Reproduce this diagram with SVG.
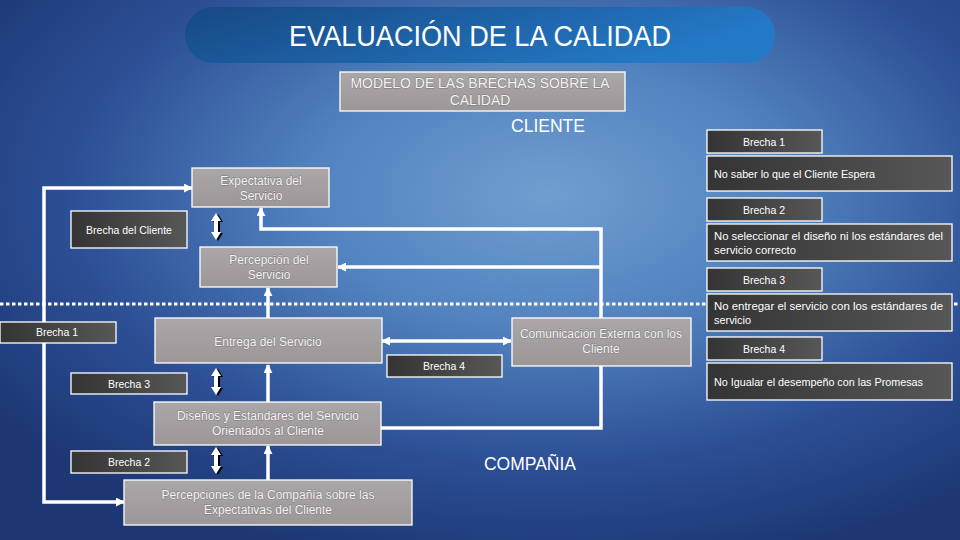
<svg xmlns="http://www.w3.org/2000/svg" width="960" height="540" viewBox="0 0 960 540">
<defs>
<radialGradient id="bg" cx="0.57" cy="0.36" r="0.7">
<stop offset="0" stop-color="#6f9ed0"/>
<stop offset="0.35" stop-color="#5283bf"/>
<stop offset="0.7" stop-color="#2d5096"/>
<stop offset="1" stop-color="#1d3774"/>
</radialGradient>
<linearGradient id="ban" x1="0" y1="0" x2="1" y2="0.3">
<stop offset="0" stop-color="#174883"/>
<stop offset="1" stop-color="#2479c6"/>
</linearGradient>
<linearGradient id="gray" x1="0" y1="0" x2="0" y2="1">
<stop offset="0" stop-color="#aba7a8"/>
<stop offset="1" stop-color="#9c9697"/>
</linearGradient>
<linearGradient id="dark" x1="0" y1="0" x2="1" y2="0">
<stop offset="0" stop-color="#343434"/>
<stop offset="1" stop-color="#575757"/>
</linearGradient>
<marker id="ah" viewBox="0 0 10 10" refX="9" refY="5" markerWidth="9" markerHeight="9" markerUnits="userSpaceOnUse" orient="auto-start-reverse">
<path d="M0,0 L10,5 L0,10 z" fill="#ffffff"/>
</marker>
<g id="darr">
<path d="M2,1 L7,9 L4,9 L4,20 L7,20 L2,28 L-3,20 L0,20 L0,9 L-3,9 z" fill="#000000"/>
<path d="M0,0 L5,8 L2,8 L2,19 L5,19 L0,27 L-5,19 L-2,19 L-2,8 L-5,8 z" fill="#ffffff"/>
</g>
<style>
.gbox{fill:url(#gray);stroke:#ffffff;stroke-width:1.3}
.dbox{fill:url(#dark);stroke:#ffffff;stroke-width:1.3}
.gt{font-family:"Liberation Sans",Arial,sans-serif;font-size:12px;fill:#f4f4f4;text-anchor:middle;paint-order:stroke;stroke:#7d7879;stroke-width:0.8px}
.dt{font-family:"Liberation Sans",Arial,sans-serif;font-size:10.5px;fill:#ffffff;text-anchor:middle}
.rt{font-family:"Liberation Sans",Arial,sans-serif;font-size:10.5px;fill:#ffffff}
.big{font-family:"Liberation Sans",Arial,sans-serif;font-size:17.5px;fill:#ffffff;text-anchor:middle}
.conn{fill:none;stroke:#ffffff;stroke-width:3.5}
</style>
</defs>
<rect x="0" y="0" width="960" height="540" fill="url(#bg)"/>
<line x1="0" y1="304" x2="960" y2="304" stroke="#ffffff" stroke-width="3" stroke-dasharray="3.5 2.5"/>

<g id="title">
<rect x="185" y="7" width="590" height="56" rx="28" fill="url(#ban)"/>
<text x="480" y="46" font-family="Liberation Sans,Arial,sans-serif" font-size="29" fill="#ffffff" text-anchor="middle" textLength="382" lengthAdjust="spacingAndGlyphs">EVALUACIÓN DE LA CALIDAD</text>
</g>
<g id="subtitle">
<rect x="340" y="72" width="285" height="39" class="gbox"/>
<text x="480" y="88" class="gt" font-size="14" textLength="259" lengthAdjust="spacingAndGlyphs" style="font-size:14px">MODELO DE LAS BRECHAS SOBRE LA</text>
<text x="480" y="105" class="gt" style="font-size:14px">CALIDAD</text>
</g>
<text id="cliente" x="548" y="132" class="big">CLIENTE</text>
<text id="compania" x="530" y="470" class="big">COMPAÑIA</text>

<g id="connectors">
<path class="conn" d="M192,188 H44 V502 H124" marker-start="url(#ah)" marker-end="url(#ah)"/>
<path class="conn" d="M601,318 V229 H261 V208" marker-end="url(#ah)"/>
<path class="conn" d="M601,267 H338" marker-end="url(#ah)"/>
<path class="conn" d="M268,318 V288" marker-end="url(#ah)"/>
<path class="conn" d="M382,341 H511" marker-start="url(#ah)" marker-end="url(#ah)"/>
<path class="conn" d="M268,402 V365" marker-end="url(#ah)"/>
<path class="conn" d="M381,428 H601 V366"/>
<path class="conn" d="M268,480 V446" marker-end="url(#ah)"/>
<use href="#darr" x="216" y="213"/>
<use href="#darr" x="216" y="368"/>
<use href="#darr" x="216" y="447"/>
</g>

<g id="expectativa">
<rect x="192" y="168" width="137" height="39" class="gbox"/>
<text x="261" y="185" class="gt">Expectativa del</text>
<text x="261" y="200" class="gt">Servicio</text>
</g>
<g id="brecha-cliente">
<rect x="71" y="211" width="116" height="37" class="dbox"/>
<text x="129" y="234" class="dt">Brecha del Cliente</text>
</g>
<g id="percepcion">
<rect x="200" y="247" width="137" height="40" class="gbox"/>
<text x="269" y="264" class="gt">Percepción del</text>
<text x="269" y="279" class="gt">Servicio</text>
</g>
<g id="brecha1-left">
<rect x="0" y="322" width="116" height="21" class="dbox"/>
<text x="57" y="336" class="dt">Brecha 1</text>
</g>
<g id="entrega">
<rect x="155" y="318" width="227" height="45" class="gbox"/>
<text x="268" y="346" class="gt">Entrega del Servicio</text>
</g>
<g id="comunicacion">
<rect x="512" y="318" width="179" height="48" class="gbox"/>
<text x="601" y="338" class="gt">Comunicación Externa con los</text>
<text x="601" y="353" class="gt">Cliente</text>
</g>
<g id="brecha4-center">
<rect x="387" y="355" width="115" height="22" class="dbox"/>
<text x="444" y="370" class="dt">Brecha 4</text>
</g>
<g id="brecha3-left">
<rect x="71" y="373" width="116" height="21" class="dbox"/>
<text x="129" y="388" class="dt">Brecha 3</text>
</g>
<g id="disenos">
<rect x="154" y="402" width="227" height="43" class="gbox"/>
<text x="268" y="420" class="gt">Diseños y Estandares del Servicio</text>
<text x="268" y="435" class="gt">Orientados al Cliente</text>
</g>
<g id="brecha2-left">
<rect x="71" y="451" width="116" height="22" class="dbox"/>
<text x="129" y="466" class="dt">Brecha 2</text>
</g>
<g id="percepciones">
<rect x="124" y="480" width="288" height="45" class="gbox"/>
<text x="268" y="499" class="gt">Percepciones de la Compañía sobre las</text>
<text x="268" y="514" class="gt">Expectativas del Cliente</text>
</g>

<g id="r-brecha1">
<rect x="707" y="130" width="115" height="23" class="dbox"/>
<text x="764" y="146" class="dt">Brecha 1</text>
</g>
<g id="r-nosaber">
<rect x="707" y="156" width="245" height="35" class="dbox"/>
<text x="714" y="178" class="rt" textLength="161" lengthAdjust="spacingAndGlyphs">No saber lo que el Cliente Espera</text>
</g>
<g id="r-brecha2">
<rect x="707" y="198" width="115" height="23" class="dbox"/>
<text x="764" y="214" class="dt">Brecha 2</text>
</g>
<g id="r-noseleccionar">
<rect x="707" y="224" width="245" height="37" class="dbox"/>
<text x="714" y="240" class="rt" textLength="229" lengthAdjust="spacingAndGlyphs">No seleccionar el diseño ni los estándares del</text>
<text x="714" y="254" class="rt" textLength="82" lengthAdjust="spacingAndGlyphs">servicio correcto</text>
</g>
<g id="r-brecha3">
<rect x="707" y="268" width="115" height="23" class="dbox"/>
<text x="764" y="284" class="dt">Brecha 3</text>
</g>
<g id="r-noentregar">
<rect x="707" y="294" width="245" height="37" class="dbox"/>
<text x="714" y="310" class="rt" textLength="229" lengthAdjust="spacingAndGlyphs">No entregar el servicio con los estándares de</text>
<text x="714" y="324" class="rt" textLength="37" lengthAdjust="spacingAndGlyphs">servicio</text>
</g>
<g id="r-brecha4">
<rect x="707" y="337" width="115" height="23" class="dbox"/>
<text x="764" y="353" class="dt">Brecha 4</text>
</g>
<g id="r-noigualar">
<rect x="707" y="363" width="245" height="37" class="dbox"/>
<text x="714" y="386" class="rt" textLength="209" lengthAdjust="spacingAndGlyphs">No Igualar el desempeño con las Promesas</text>
</g>
</svg>
